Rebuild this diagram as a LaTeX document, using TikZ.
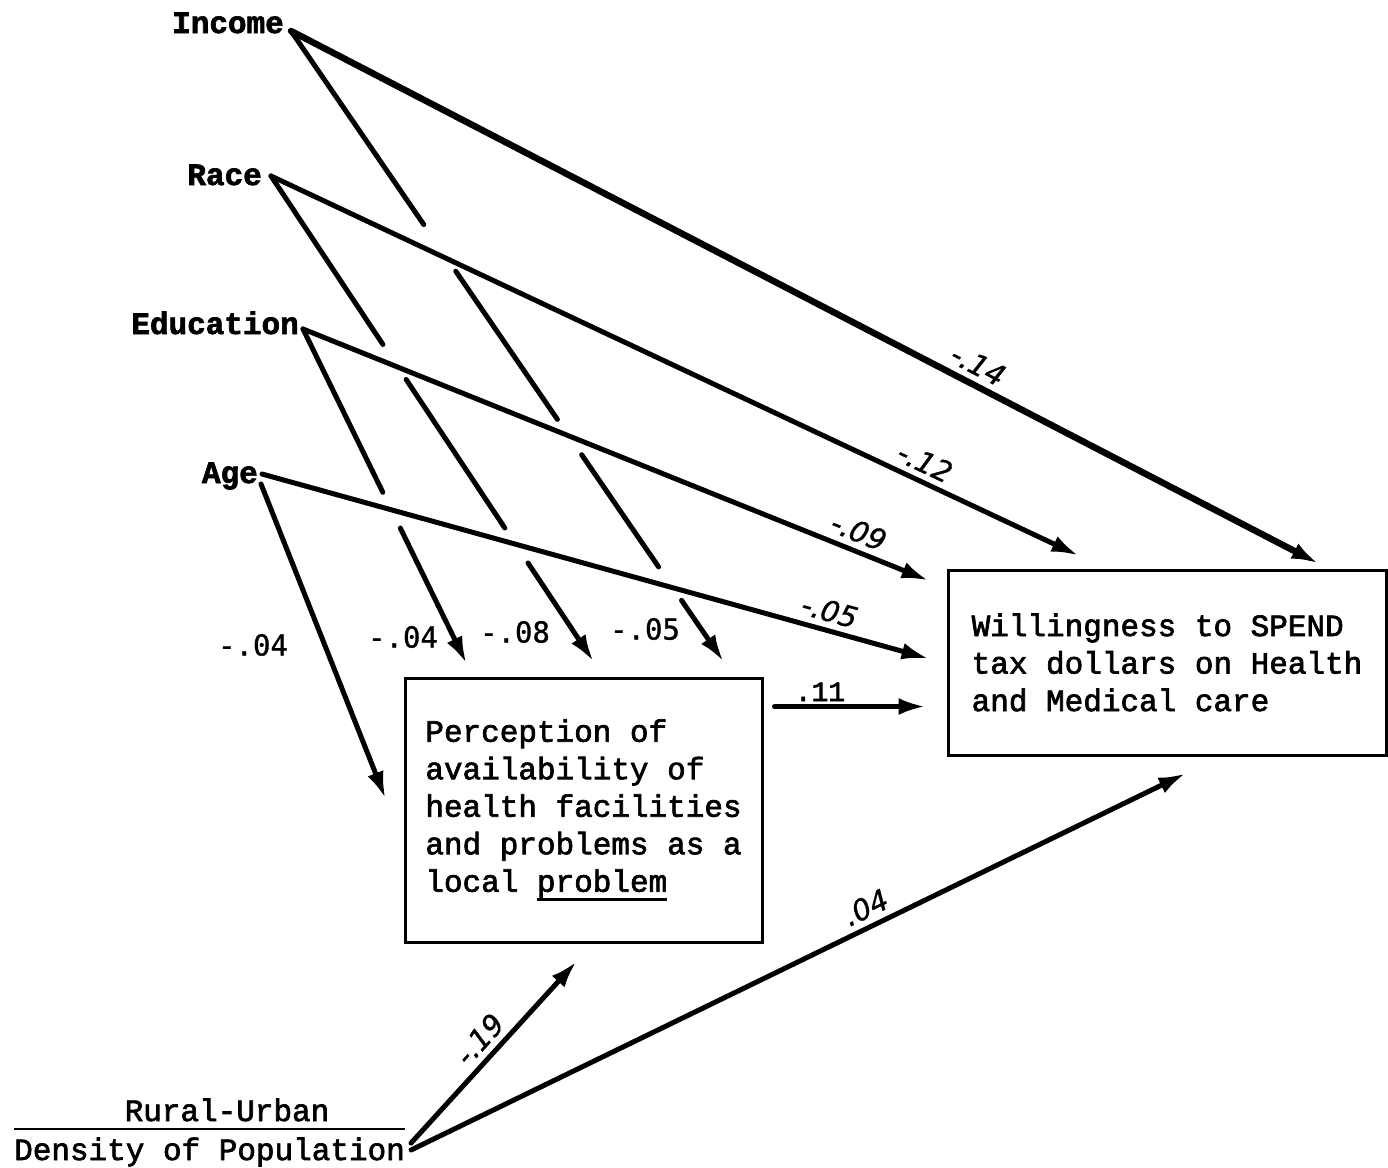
\documentclass[tikz,border=0pt]{standalone}
\usepackage{fontspec}
\setmainfont{Liberation Mono}[FakeBold=2.2]
\newfontfamily\numfont{DejaVu Sans Mono}[FakeBold=1]
\newfontfamily\slfont{DejaVu Sans}[FakeBold=1]
\usetikzlibrary{arrows.meta,calc}
\newcommand\ulword[1]{\setbox0\hbox{#1}\rlap{\raisebox{-9pt}{\rule{\wd0}{2.5pt}}}\box0}
\begin{document}
\begin{tikzpicture}[x=1pt,y=-1pt,
  src/.style={inner sep=0pt,font=\fontsize{31}{37.5}\selectfont\bfseries},
  plain/.style={inner sep=0pt,font=\fontsize{31}{37.5}\selectfont},
  boxnode/.style={draw,line width=3pt,align=left,font=\fontsize{31}{37.5}\selectfont,inner sep=0pt},
  ln/.style={line width=5pt,line cap=round},
  arr/.style={-{Latex[length=27pt,width=17pt]}},
  coef/.style={font=\numfont\fontsize{29}{30}\selectfont,inner sep=0pt},
  slab/.style={font=\slfont\itshape\fontsize{29}{30}\selectfont,sloped,above,inner sep=6pt}]

\useasboundingbox[fill=white] (0,0) rectangle (1388,1167);

% source variables
\node[src,anchor=base east] (income) at (284,33) {Income};
\node[src,anchor=base east] (race) at (262,185) {Race};
\node[src,anchor=base east] (edu) at (299,334) {Education};
\node[src,anchor=base east] (age) at (258,483) {Age};
\node[plain,anchor=base west] (dens) at (14,1160) {Density of Population};
\node[plain,anchor=base] (rural) at (227,1121) {Rural-Urban};
\draw[line width=2.5pt] ($(dens.base west)+(0,-31)$) -- ($(dens.base east)+(0,-31)$);

% boxes
\node[boxnode,minimum width=357pt,minimum height=264pt] (perc) at (583.5,810)
  {Perception of\\availability of\\health facilities\\and problems as a\\local \ulword{problem}};
\node[boxnode,minimum width=438pt,minimum height=185pt] (will) at (1167,662.5)
  {Willingness to SPEND\\tax dollars on Health\\and Medical care};

% line starts
\coordinate (incS) at ($(income.base east)+(7,-2)$);
\coordinate (raceS) at ($(race.base east)+(9,-9)$);
\coordinate (eduS) at ($(edu.base east)+(4,-5)$);
\coordinate (ageS1) at ($(age.base east)+(4,-9)$);
\coordinate (ageS2) at ($(age.base east)+(3,1)$);
\coordinate (rurS1) at ($(dens.base east)+(6,-17)$);
\coordinate (rurS2) at ($(dens.base east)+(6,-10)$);

% arrow ends near Perception box
\coordinate (pInc) at ($(perc.north west)+(320,-15)$);
\coordinate (pRace) at ($(perc.north west)+(190,-15)$);
\coordinate (pEdu) at ($(perc.north west)+(63,-13)$);
\coordinate (pAge) at ($(perc.north west)+(-18,122)$);
\coordinate (pRur) at ($(perc.south west)+(173,18)$);
\coordinate (pOut) at ($(perc.north east)+(11,30)$);

% arrow ends near Willingness box
\coordinate (wInc) at ($(will.north west)+(372,-5)$);
\coordinate (wRace) at ($(will.north west)+(132,-13)$);
\coordinate (wEdu) at ($(will.north west)+(-18,12)$);
\coordinate (wAge) at ($(will.north west)+(-18,90)$);
\coordinate (wPerc) at ($(will.north west)+(-21,138)$);
\coordinate (wRur) at ($(will.south west)+(239,17)$);

% broken paths to Perception
\draw[ln] (incS) -- ($(incS)!0.307!(pInc)$);
\draw[ln] ($(incS)!0.381!(pInc)$) -- ($(incS)!0.616!(pInc)$);
\draw[ln] ($(incS)!0.672!(pInc)$) -- ($(incS)!0.850!(pInc)$);
\draw[ln,arr] ($(incS)!0.903!(pInc)$) -- (pInc);

\draw[ln] (raceS) -- ($(raceS)!0.347!(pRace)$);
\draw[ln] ($(raceS)!0.419!(pRace)$) -- ($(raceS)!0.725!(pRace)$);
\draw[ln,arr] ($(raceS)!0.797!(pRace)$) -- (pRace);

\draw[ln] (eduS) -- ($(eduS)!0.488!(pEdu)$);
\draw[ln,arr] ($(eduS)!0.595!(pEdu)$) -- (pEdu);

\draw[ln,arr] (ageS2) -- (pAge);

% coefficients to Perception
\node[coef] (cAge) at (253,645) {-.04};
\node[coef] (cEdu) at (403,637) {-.04};
\node[coef] (cRace) at (515,632) {-.08};
\node[coef] (cInc) at (645,629) {-.05};

% paths to Willingness
\draw[ln,line width=6.5pt,arr] (incS) -- node[slab,pos=0.66] {-.14} (wInc);
\draw[ln,arr] (raceS) -- node[slab,pos=0.80] {-.12} (wRace);
\draw[ln,arr] (eduS) -- node[slab,pos=0.877] {-.09} (wEdu);
\draw[ln,arr] (ageS1) -- node[slab,pos=0.844] {-.05} (wAge);
\draw[ln,arr] (pOut) -- (wPerc);
\node[font=\fontsize{28}{30}\selectfont,inner sep=0pt,anchor=base] (c11) at (820,701) {.11};

% rural-urban paths
\draw[ln,arr] (rurS1) -- node[slab,pos=0.5] {-.19} (pRur);
\draw[ln,arr] (rurS2) -- node[slab,pos=0.598] {.04} (wRur);
\end{tikzpicture}
\end{document}
